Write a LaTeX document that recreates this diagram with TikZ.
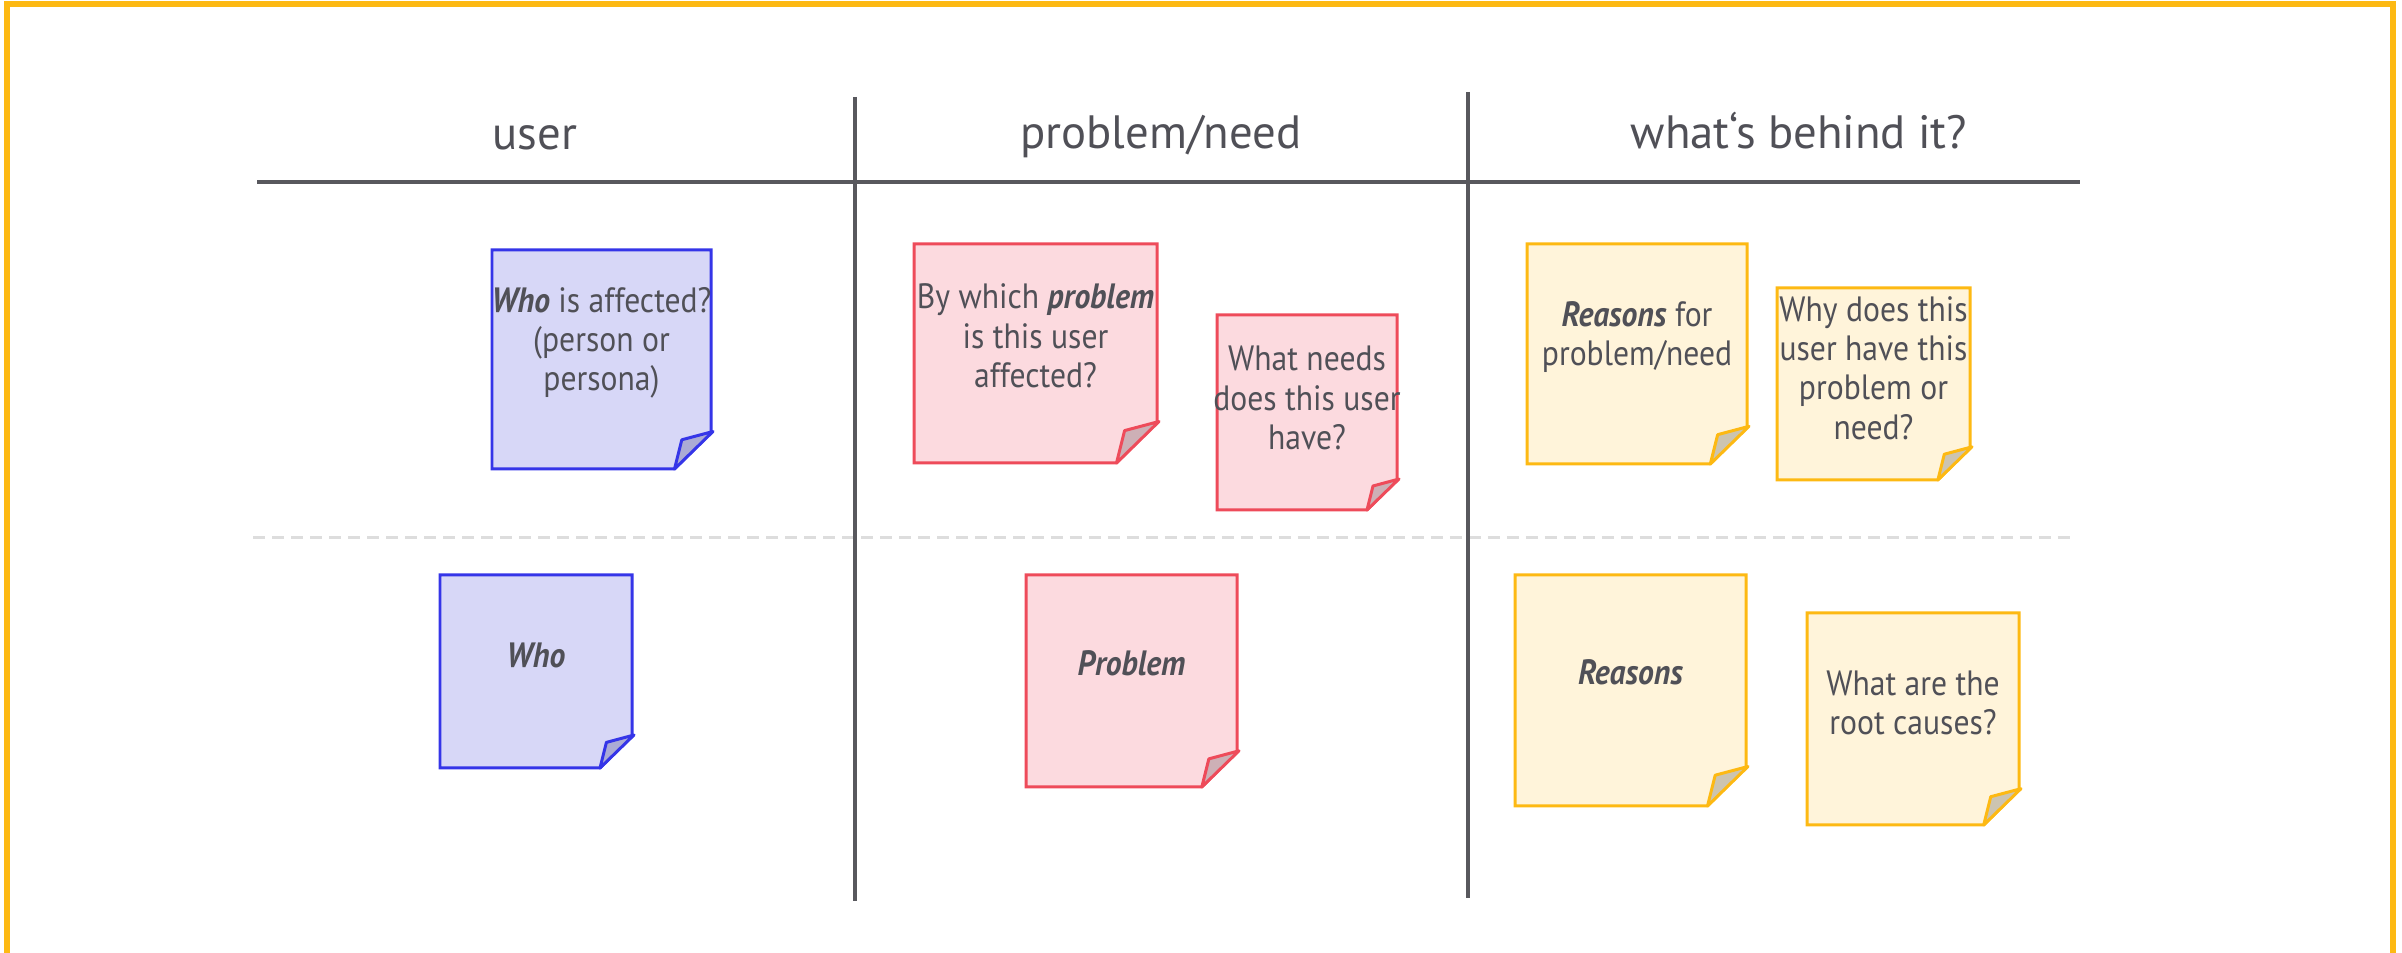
\documentclass[tikz,border=0pt]{standalone}
\usepackage{fontspec}
\setmainfont{PT Sans}[FakeStretch=0.9]
\newfontfamily\headfont{PT Sans}
\definecolor{bluefill}{HTML}{D7D7F7}
\definecolor{blueline}{HTML}{3535E8}
\definecolor{bluefold}{HTML}{ABABD5}
\definecolor{redfill}{HTML}{FCDADF}
\definecolor{redline}{HTML}{EE4B5A}
\definecolor{redfold}{HTML}{CDB0B6}
\definecolor{yelfill}{HTML}{FFF4DA}
\definecolor{yelline}{HTML}{FDB913}
\definecolor{yelfold}{HTML}{CCC4B0}
\definecolor{framecol}{HTML}{FDB913}
\definecolor{rulecol}{HTML}{58585D}
\definecolor{dashcol}{HTML}{DDDDDD}
\definecolor{textcol}{HTML}{505057}
\newcommand\bi[1]{\textbf{\textit{#1}}}
\newcommand\stickynote[8]{%
  \pgfmathsetmacro\sdd{#4/6}%
  \pgfmathsetmacro\sxr{#2+#4}%
  \pgfmathsetmacro\syb{#3+#5}%
  \filldraw[fill=#6fill, draw=#6line, line width=0.85pt, line join=miter]
    (#2,#3) -- (\sxr,#3) -- (\sxr,\syb-\sdd) -- (\sxr-\sdd,\syb) -- (#2,\syb) -- cycle;
  \filldraw[fill=#6fold, draw=#6line, line width=0.85pt, line join=round]
    (\sxr-\sdd,\syb) -- (\sxr-0.8*\sdd,\syb-0.8*\sdd) -- (\sxr+2,\syb-\sdd-1) -- cycle;
  \node[notetext] (#1) at (#2+#4/2,#7) {#8};
}
\begin{document}
\begin{tikzpicture}[x=0.1mm,y=-0.1mm,
  notetext/.style={align=center, inner sep=0pt, text=textcol, font=\fontsize{10}{11.2}\selectfont},
  head/.style={anchor=base, inner sep=0pt, text=textcol, font=\headfont\fontsize{13.3}{15}\selectfont},
  rule/.style={draw=rulecol, line width=1.1pt},
  dashrule/.style={draw=dashcol, line width=0.85pt, dash pattern=on 1.2mm off 0.7mm},
  frame/.style={draw=framecol, line width=1.5pt}]
\useasboundingbox (0,0) rectangle (2402,953);
\draw[frame] (7,960) -- (7,4) -- (2393,4) -- (2393,960);
% table rules
\coordinate (hl) at (257,182); \coordinate (hr) at (2080,182);
\coordinate (v1t) at (855,97); \coordinate (v1b) at (855,901);
\coordinate (v2t) at (1468,92); \coordinate (v2b) at (1468,898);
\coordinate (dl) at (253,538); \coordinate (dr) at (2071,538);
\draw[dashrule] (dl) -- (dr);
\draw[rule] (hl) -- (hr);
\draw[rule] (v1t) -- (v1b);
\draw[rule] (v2t) -- (v2b);
% headers
\node[head] (huser) at (535,150) {user};
\node[head] (hprob) at (1161,149) {problem/need};
\node[head] (hwhy) at (1799,149) {what‘s behind it?};
% notes, top row
\stickynote{n1}{492}{250}{219}{219}{blue}{343}{\bi{Who} is affected?\\(person or\\persona)}
\stickynote{n2}{914}{244}{243}{219}{red}{336}{By which \bi{problem}\\is this user\\affected?}
\stickynote{n3}{1217}{315}{180}{195}{red}{398}{What needs\\does this user\\have?}
\stickynote{n4}{1527}{244}{220}{220}{yel}{337}{\bi{Reasons} for\\problem/need}
\stickynote{n5}{1777}{288}{193}{192}{yel}{368}{Why does this\\user have this\\problem or\\need?}
% notes, bottom row
\stickynote{n6}{440}{575}{192}{193}{blue}{655}{\bi{Who}}
\stickynote{n7}{1026}{575}{211}{212}{red}{663}{\bi{Problem}}
\stickynote{n8}{1515}{575}{231}{231}{yel}{672}{\bi{Reasons}}
\stickynote{n9}{1807}{613}{212}{212}{yel}{703}{What are the\\root causes?}
\end{tikzpicture}
\end{document}
